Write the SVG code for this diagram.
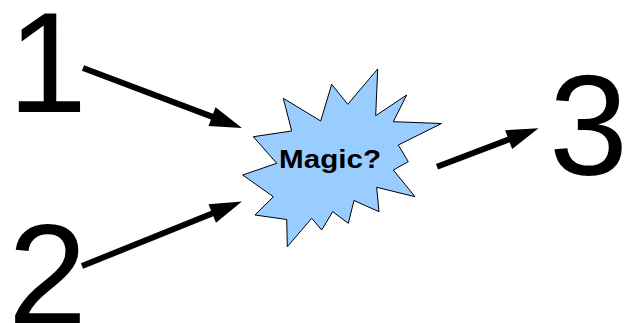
<svg xmlns="http://www.w3.org/2000/svg" width="629" height="323" viewBox="0 0 629 323">
<style>
.num{font-family:"Liberation Sans",Arial,sans-serif;font-size:142px;fill:#000}
.lbl{font-family:"Liberation Sans",Arial,sans-serif;font-size:26px;font-weight:bold;fill:#000}
.conn{stroke:#000;stroke-width:6;fill:none;marker-end:url(#ah)}
.burst{fill:#99ccff;stroke:#000;stroke-width:1;stroke-linejoin:miter}
</style>
<defs>
<marker id="ah" markerUnits="userSpaceOnUse" viewBox="-2 -10 32 20" refX="0" refY="0" markerWidth="32" markerHeight="20" orient="auto" overflow="visible">
<path d="M-2,-10 L30,0 L-2,10 z" fill="#000"/>
</marker>
</defs>
<rect width="629" height="323" fill="#fff"/>
<g id="node1"><text class="num" x="8" y="112">1</text></g>
<g id="node2"><text class="num" x="8" y="324">2</text></g>
<g id="node3"><text class="num" x="549" y="175">3</text></g>
<g id="magic">
<polygon class="burst" points="331.7,84.3 347.7,104.3 377.7,69 375.7,115.7 406.7,95 393.3,121.7 441.5,123.5 398.3,145 408.3,161.7 393.3,170 415,196.7 376.7,187.3 379,211.7 354,200.5 348.3,223.3 332.7,211.7 321.7,230 311.7,218.3 287.3,246.7 286.7,219.5 255,215 273.3,196.7 242.7,175 276.7,163.3 253.3,136.7 291.7,131 283.3,98.3 320.7,121"/>
<text class="lbl" x="279" y="168" textLength="102" lengthAdjust="spacingAndGlyphs">Magic?</text>
</g>
<g id="connectors">
<line class="conn" x1="83" y1="68" x2="213.9" y2="117.4"/>
<line class="conn" x1="82" y1="266" x2="214.1" y2="212.8"/>
<line class="conn" x1="437" y1="166.7" x2="510.5" y2="138.9"/>
</g>
</svg>
